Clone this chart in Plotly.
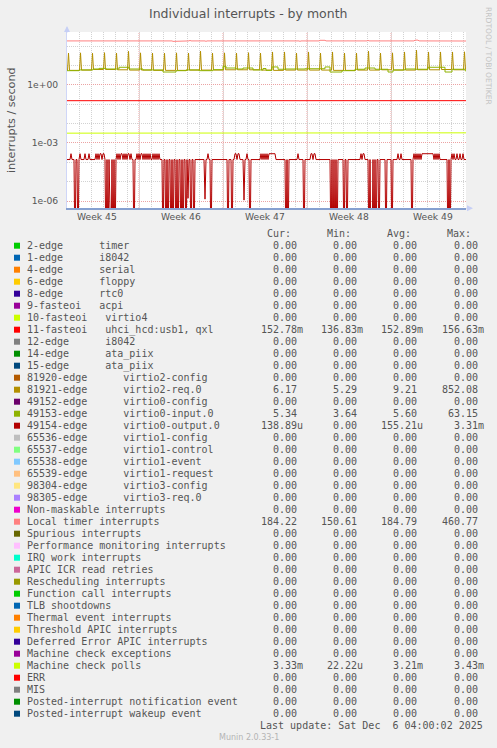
import plotly.graph_objects as go
from datetime import datetime, timedelta

# ---------------- time frame ----------------
START = datetime(2025, 11, 3, 0, 0)
END = datetime(2025, 12, 6, 6, 0)
STEP_H = 2  # hours per sample of the detailed series

WEEK_LABELS = ["Week 45", "Week 46", "Week 47", "Week 48", "Week 49"]
WEEK_CENTERS = ["2025-11-05 12:00", "2025-11-12 12:00", "2025-11-19 12:00",
                "2025-11-26 12:00", "2025-12-03 12:00"]
WEEK_STARTS = ["2025-11-09", "2025-11-16", "2025-11-23", "2025-11-30"]

Y_TICK_VALS = [1e-6, 1e-3, 1e0]
Y_TICK_TEXT = ["1e-06", "1e-03", "1e+00"]
Y_MINOR_VALS = [1e-6, 1e-5, 1e-4, 1e-3, 1e-2, 1e-1, 1e0, 1e1, 1e2]

# ---------------- legend rows ----------------
NAMES = [
    "2-edge      timer", "1-edge      i8042", "4-edge      serial", "6-edge      floppy",
    "8-edge      rtc0", "9-fasteoi   acpi", "10-fasteoi   virtio4",
    "11-fasteoi   uhci_hcd:usb1, qxl", "12-edge      i8042", "14-edge      ata_piix",
    "15-edge      ata_piix", "81920-edge      virtio2-config", "81921-edge      virtio2-req.0",
    "49152-edge      virtio0-config", "49153-edge      virtio0-input.0",
    "49154-edge      virtio0-output.0", "65536-edge      virtio1-config",
    "65537-edge      virtio1-control", "65538-edge      virtio1-event",
    "65539-edge      virtio1-request", "98304-edge      virtio3-config",
    "98305-edge      virtio3-req.0", "Non-maskable interrupts", "Local timer interrupts",
    "Spurious interrupts", "Performance monitoring interrupts", "IRQ work interrupts",
    "APIC ICR read retries", "Rescheduling interrupts", "Function call interrupts",
    "TLB shootdowns", "Thermal event interrupts", "Threshold APIC interrupts",
    "Deferred Error APIC interrupts", "Machine check exceptions", "Machine check polls",
    "ERR", "MIS", "Posted-interrupt notification event", "Posted-interrupt wakeup event",
]
COLORS = [
    "#00CC00", "#0066B3", "#FF8000", "#FFCC00", "#330099", "#990099", "#CCFF00", "#FF0000",
    "#808080", "#008F00", "#00487D", "#B35A00", "#B38F00", "#6B006B", "#8FB300", "#B30000",
    "#BEBEBE", "#80FF80", "#80C9FF", "#FFC080", "#FFE680", "#AA80FF", "#EE00CC", "#FF8080",
    "#666600", "#FFBFFF", "#00FFCC", "#CC6699", "#999900", "#00CC00", "#0066B3", "#FF8000",
    "#FFCC00", "#330099", "#990099", "#CCFF00", "#FF0000", "#808080", "#008F00", "#00487D",
]
CUR = [0, 0, 0, 0, 0, 0, 0, 0.15278, 0, 0, 0, 0, 6.17, 0, 5.34, 138.89e-6, 0, 0, 0, 0, 0, 0,
       0, 184.22, 0, 0, 0, 0, 0, 0, 0, 0, 0, 0, 0, 3.33e-3, 0, 0, 0, 0]
MIN = [0, 0, 0, 0, 0, 0, 0, 0.13683, 0, 0, 0, 0, 5.29, 0, 3.64, 0, 0, 0, 0, 0, 0, 0,
       0, 150.61, 0, 0, 0, 0, 0, 0, 0, 0, 0, 0, 0, 22.22e-6, 0, 0, 0, 0]
AVG = [0, 0, 0, 0, 0, 0, 0, 0.15289, 0, 0, 0, 0, 9.21, 0, 5.60, 155.21e-6, 0, 0, 0, 0, 0, 0,
       0, 184.79, 0, 0, 0, 0, 0, 0, 0, 0, 0, 0, 0, 3.21e-3, 0, 0, 0, 0]
MAX = [0, 0, 0, 0, 0, 0, 0, 0.15663, 0, 0, 0, 0, 852.08, 0, 63.15, 3.31e-3, 0, 0, 0, 0, 0, 0,
       0, 460.77, 0, 0, 0, 0, 0, 0, 0, 0, 0, 0, 0, 3.43e-3, 0, 0, 0, 0]

LAST_UPDATE = "Last update: Sat Dec  6 04:00:02 2025"

# ---------------- series ----------------
# Local timer interrupts: (hours since START, value)
LOC_H = [0, 72, 74, 78, 80, 96, 98, 100, 114, 116, 118, 176, 178, 180, 210, 212, 218, 220,
         244, 246, 248, 276, 278, 280, 310, 312, 318, 320, 336, 338, 340, 360, 362, 364,
         400, 402, 404, 464, 466, 468, 504, 506, 516, 518, 600, 602, 604, 694, 696, 702,
         704, 740, 742, 744, 798]
LOC_V = [186, 186, 200, 200, 186, 186, 198, 186, 186, 198, 186, 186, 200, 186, 186, 176, 176,
         186, 186, 198, 186, 186, 176, 186, 186, 202, 202, 186, 186, 198, 186, 186, 198, 186,
         186, 198, 186, 186, 176, 186, 186, 200, 200, 186, 186, 200, 186, 186, 204, 204,
         186, 186, 198, 186, 184]

# 11-fasteoi uhci_hcd:usb1, qxl
IRQ11_H = [0, 30, 34, 90, 94, 170, 176, 260, 264, 380, 386, 470, 474, 560, 566, 660, 664,
           760, 766, 798]
IRQ11_V = [0.152, 0.152, 0.157, 0.157, 0.152, 0.152, 0.157, 0.152, 0.157, 0.152, 0.157,
           0.152, 0.157, 0.152, 0.157, 0.152, 0.157, 0.152, 0.157, 0.1528]

# Machine check polls
MCP_H = [0, 200, 400, 600, 798]
MCP_V = [3.20e-3, 3.21e-3, 3.22e-3, 3.20e-3, 3.33e-3]

# 81921-edge virtio2-req.0: daily spikes and the level between them
GOLD_SPIKE_H = [3, 27, 51, 75, 99, 123, 147, 171, 195, 219, 243, 267, 291, 315, 339, 363, 387,
                411, 435, 459, 483, 507, 531, 555, 579, 603, 627, 651, 675, 699, 723, 747,
                771, 795]
GOLD_SPIKE_V = [44, 45, 43, 46, 44, 54, 45, 44, 43, 45, 44, 55, 44, 45, 44, 46, 44,
                50, 50, 44, 50, 44, 50, 44, 44, 55, 44, 45, 50, 62, 50, 50, 50, 51]
GOLD_BASE_V = [5.6, 5.6, 5.8, 6.2, 6.2, 6.0, 5.8, 5.8, 5.6, 5.6, 5.6, 5.8, 5.8, 5.8, 6.0, 6.0,
               6.0, 5.8, 5.6, 5.8, 5.8, 5.8, 5.8, 5.6, 5.6, 5.8, 5.8, 6.0, 5.8, 5.8, 6.0,
               6.0, 6.2, 6.0, 6.17]

# 49153-edge virtio0-input.0 (step levels)
GREEN_H = [0, 24, 52, 64, 78, 104, 124, 152, 192, 218, 238, 264, 292, 312, 318, 338, 352,
           372, 392, 398, 410, 422, 436, 476, 516, 526, 550, 576, 596, 616, 642, 652, 676,
           696, 722, 756, 770, 796, 798]
GREEN_V = [5.4, 5.9, 6.6, 7.1, 6.6, 8.1, 6.6, 5.9, 4.6, 5.4, 5.9, 5.4, 6.1, 9.1, 7.4, 6.6,
           7.4, 5.9, 7.0, 5.6, 8.4, 6.4, 6.6, 6.8, 8.4, 4.6, 5.4, 6.4, 7.4, 6.4, 4.6, 5.9,
           6.6, 6.4, 8.1, 4.6, 6.4, 5.34, 5.34]

# 49154-edge virtio0-output.0: interrupts per 2 h sample (1 = 1/7200 per second)
OUT_COUNTS = [
    1, 1, 1, 1, 2, 1, 1, 1, 0, 1, 1, 0, 1, 2, 1, 1, 1, 1, 2, 1, 1, 1, 2,
    1, 1, 1, 1, 1, 1,
    2, 1, 2, 1, 2, 2, 1, 2, 2, 1,
    0, 1, 0, 1, 0, 0, 1, 0, 1, 0,
    1, 2, 1, 2, 1, 2, 2, 1, 2, 1, 2, 1, 2, 2, 1, 2, 1, 1, 0, 1,
    1, 2, 1, 2, 1, 2, 2, 1, 2, 1, 2, 1, 2, 1, 2, 1, 1, 2, 1, 2, 1, 2, 1, 2, 1, 1,
    1, 0, 1, 1, 0, 1, 0, 1, 1, 0, 1, 0, 1, 1, 0, 1, 0, 1, 1, 0, 1, 0, 1, 1, 0, 1,
    0.01, 1, 1, 0, 1, 1, 0, 1, 1, 1,
    1, 1, 1, 1, 1, 1, 1, 0.009, 1, 1, 2, 1, 1, 0,
    1, 1, 1, 1, 1, 1, 1, 1, 1, 1, 1, 1, 1, 1, 1, 1,
    0, 1, 1, 1, 0, 1,
    1, 2, 2, 1, 2, 2, 1, 1, 1, 1, 0.008, 1, 1, 2, 1, 1, 0,
    1, 1, 1, 1, 1, 1, 1, 1, 1, 1, 2,
    1, 2, 1, 2, 1, 2, 1, 2, 2, 2, 2, 2, 2, 2, 1,
    1, 1, 1, 1, 1, 1, 1, 1, 1, 0, 1, 0,
    1, 1, 1, 1, 1, 1, 1, 1, 1, 2, 1, 1, 1, 1, 1, 0, 1, 1, 1, 1, 1,
    1, 2, 2, 1, 2, 2, 1,
    1, 1, 1, 1, 1, 1, 1, 1, 1, 1, 1, 1, 1, 1,
    0, 1, 0, 1, 0, 1, 0, 1,
    1, 1, 1, 1, 1, 0, 1, 1, 0,
    1, 1, 1, 1, 1, 1, 1, 1, 1, 1, 1, 1, 1,
    2, 1, 2, 2, 1, 1, 1, 1,
    0, 1, 0, 0, 1, 0, 1, 0, 1, 1, 0, 1,
    1, 1, 1, 1, 1, 0, 1, 1, 1, 1, 1, 0, 1, 1, 1, 1,
    1, 2, 1, 1, 2,
    1, 1, 1, 1, 1, 1, 1, 1, 1, 1, 0,
    1, 2, 1, 2, 1, 2, 1, 2, 1, 2, 2, 2, 2, 2, 2, 2, 2, 2, 2, 2, 2, 1, 2, 1, 2, 1, 2, 1,
    1, 1, 1, 1, 1, 1, 1, 0, 1, 0,
    1, 2, 1, 2, 1,
    1, 2, 1, 1, 2, 1, 1, 2, 1, 1, 1,
]
OUT_UNIT = 1.0 / 7200.0

FLOOR = 1e-9  # rrdtool draws zero below the bottom of a log scale


def hours_to_time(hs):
    return [START + timedelta(hours=h) for h in hs]


def floor(vals):
    return [v if v > 0 else FLOOR for v in vals]


# ---------------- build traces ----------------
series = {}
series[7] = (hours_to_time(IRQ11_H), IRQ11_V, "linear")
gold_h, gold_v = [0], [GOLD_BASE_V[0]]
for k, (h, pk) in enumerate(zip(GOLD_SPIKE_H, GOLD_SPIKE_V)):
    gold_h += [h - 2, h, h + 2]
    gold_v += [GOLD_BASE_V[k], pk, GOLD_BASE_V[k + 1]]
gold_h.append(798)
gold_v.append(GOLD_BASE_V[-1])
series[12] = (hours_to_time(gold_h), gold_v, "linear")
series[14] = (hours_to_time(GREEN_H), GREEN_V, "hv")
out_t = [START + timedelta(hours=STEP_H * i) for i in range(len(OUT_COUNTS))]
series[15] = (out_t, [c * OUT_UNIT for c in OUT_COUNTS], "linear")
series[23] = (hours_to_time(LOC_H), LOC_V, "linear")
series[35] = (hours_to_time(MCP_H), MCP_V, "linear")

fig = go.Figure()
for i, name in enumerate(NAMES):
    if i in series:
        t, v, shape = series[i]
    else:
        t, v, shape = [START, END], [CUR[i], CUR[i]], "linear"
    fig.add_trace(go.Scatter(x=t, y=floor(v), mode="lines", name=name,
                             line=dict(color=COLORS[i], width=1, shape=shape),
                             showlegend=False, hoverinfo="skip"))

# ---------------- layout helpers ----------------
W, H = 497, 748
L, R, T, B = 67, 31, 32, 540
PW, PH = W - L - R, H - T - B


def px_x(px):
    return (px - L) / PW


def px_y(py):
    return (H - B - py) / PH


TEXT = "#555555"
MONO = "DejaVu Sans Mono"
SANS = "DejaVu Sans"
ann = []


def text(px, py, s, size=10, family=MONO, color=TEXT, xanchor="left", angle=0):
    ann.append(dict(x=px_x(px), y=px_y(py), xref="paper", yref="paper", text=s,
                    showarrow=False, xanchor=xanchor, yanchor="middle",
                    font=dict(family=family, size=size, color=color),
                    borderpad=0, borderwidth=0, textangle=angle))


def si(v):
    if v == 0:
        return "0.00", ""
    if abs(v) >= 1:
        return "%.2f" % v, ""
    if abs(v) >= 1e-3:
        return "%.2f" % (v * 1e3), "m"
    return "%.2f" % (v * 1e6), "u"


def nb(s):
    return s.replace(" ", "\u00a0")


# title and axis texts
text(248.5, 13.5, "Individual interrupts - by month", size=12.5, family=SANS,
     xanchor="center")
text(11, 120, "interrupts / second", size=11.2, family=SANS, xanchor="center", angle=-90)
text(488.5, 56.5, "RRDTOOL / TOBI OETIKER", size=7.6, family=SANS, color="#c4c4c4",
     xanchor="center", angle=90)
for lab, c in zip(WEEK_LABELS, WEEK_CENTERS):
    ann.append(dict(x=c, y=px_y(216.7), xref="x", yref="paper", text=lab, showarrow=False,
                    xanchor="center", yanchor="middle", borderpad=0,
                    font=dict(family=SANS, size=9.2, color=TEXT)))

# legend table
COL_EDGES = [296.5, 356.9, 417.2, 477.5]
HEADERS = ["Cur:", "Min:", "Avg:", "Max:"]
for e, hd in zip(COL_EDGES, HEADERS):
    text(e - 6, 233.7, hd, xanchor="right")
shapes = []
for i, name in enumerate(NAMES):
    py = 245.7 + 12 * i
    shapes.append(dict(type="rect", xref="paper", yref="paper",
                       x0=px_x(14), x1=px_x(20), y0=px_y(py - 3), y1=px_y(py + 3),
                       fillcolor=COLORS[i], line=dict(width=0)))
    text(26.7, py, nb(name))
    for e, v in zip(COL_EDGES, (CUR[i], MIN[i], AVG[i], MAX[i])):
        num, suf = si(v)
        text(e, py, num, xanchor="right")
        if suf:
            text(e, py, suf, xanchor="left")
text(483.5, 725.7, nb(LAST_UPDATE), xanchor="right")
text(248.5, 737.3, "Munin 2.0.33-1", size=8, family=SANS, color="#b4b4b4",
     xanchor="center")

# weekly (major) vertical grid lines
for ws in WEEK_STARTS:
    shapes.append(dict(type="line", xref="x", yref="paper", x0=ws, x1=ws, y0=0, y1=1,
                       layer="between", line=dict(color="#eba3a3", width=1, dash="1px,1px")))

# axis arrows
ann.append(dict(x=px_x(67), y=px_y(26), xref="paper", yref="paper", text="", showarrow=True,
                ax=0, ay=8, arrowhead=2, arrowsize=1, arrowwidth=1.2, arrowcolor="#c6cff5"))
ann.append(dict(x=px_x(473), y=px_y(208.3), xref="paper", yref="paper", text="",
                showarrow=True, ax=-8, ay=0, arrowhead=2, arrowsize=1, arrowwidth=1.2,
                arrowcolor="#c6cff5"))

fig.update_layout(
    width=W, height=H, margin=dict(l=L, r=R, t=T, b=B, pad=0),
    paper_bgcolor="#F0F0F0", plot_bgcolor="#FFFFFF",
    annotations=ann, shapes=shapes,
    xaxis=dict(type="date", range=[START, END], tickmode="linear",
               tick0="2025-11-03", dtick=86400000, showticklabels=False, ticks="",
               showgrid=True, gridcolor="#d2d2d2", gridwidth=1, griddash="1px,1px",
               showline=True, linecolor="#86a0d0", linewidth=1.5, zeroline=False),
    yaxis=dict(type="log", range=[-6.36, 2.73], tickmode="array", tickvals=Y_TICK_VALS,
               ticktext=Y_TICK_TEXT, ticks="", ticklabelstandoff=6,
               tickfont=dict(family=SANS, size=9.2, color=TEXT),
               showgrid=True, gridcolor="#eba3a3", gridwidth=1, griddash="1px,1px",
               minor=dict(tickmode="array", tickvals=Y_MINOR_VALS, showgrid=True,
                          gridcolor="#d2d2d2", gridwidth=1, griddash="1px,1px", ticks=""),
               showline=True, linecolor="#cfd6f8", linewidth=1, zeroline=False),
)

fig.write_html("out.html", config={"displayModeBar": False},
               post_script="document.body.style.margin='0';")
